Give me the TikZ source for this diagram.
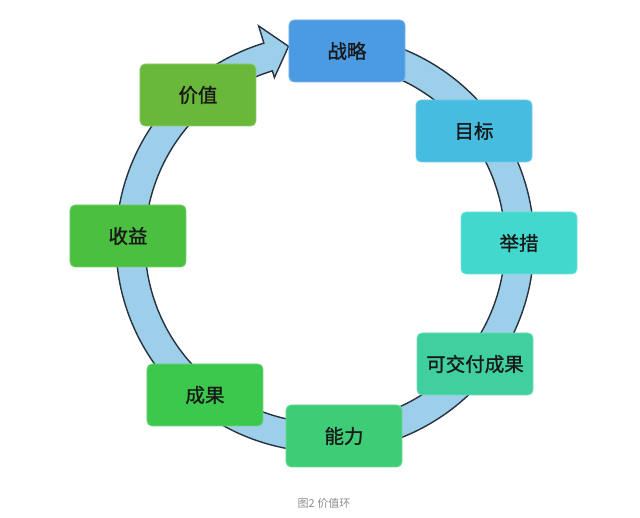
\documentclass[tikz,border=0pt]{standalone}
\usepackage{fontspec}
\usepackage{tikz}
\usetikzlibrary{arrows,positioning,calc}
\usepackage{xcolor}
\newfontfamily\cjk[AutoFakeBold=1.2]{Noto Sans CJK SC}

\definecolor{zhanlue}{HTML}{4A9BE2}
\definecolor{mubiao}{HTML}{45BCE0}
\definecolor{jucuo}{HTML}{42D8CD}
\definecolor{jiaofu}{HTML}{40CF9E}
\definecolor{nengli}{HTML}{3ECC76}
\definecolor{chengguo}{HTML}{3CC84C}
\definecolor{shouyi}{HTML}{4BBF3F}
\definecolor{jiazhi}{HTML}{6AB83A}
\definecolor{ringfill}{HTML}{9DCFEA}
\definecolor{ringline}{HTML}{26323E}

\begin{document}
\begin{tikzpicture}[x=1pt, y=1pt,
  stage/.style={rectangle, rounded corners=5pt, minimum width=116pt, minimum height=62pt,
    fill=#1, draw=#1!75!white, line width=0.8pt, text=black!90,
    font=\cjk\bfseries\fontsize{19.5}{19.5}\selectfont}]
  \useasboundingbox (-325,-275) rectangle (315,243);

  \coordinate (centre) at (0,0);
  \draw[fill=ringfill, draw=ringline, line width=1.4pt, line join=miter]
    (80:209) arc[start angle=80, end angle=-253, radius=209]
    -- (-253:227) -- (-259.5:200) -- (-253:173) -- (-253:180)
    arc[start angle=-253, end angle=80, radius=180] -- cycle;

  \node (zhanlue) [stage=zhanlue] at (22,192) {战略};
  \node (mubiao) [stage=mubiao] at (149,112) {目标};
  \node (jucuo) [stage=jucuo] at (194,0) {举措};
  \node (jiaofu) [stage=jiaofu] at (150,-121) {可交付成果};
  \node (nengli) [stage=nengli] at (19,-193) {能力};
  \node (chengguo) [stage=chengguo] at (-120,-152) {成果};
  \node (shouyi) [stage=shouyi] at (-197,7) {收益};
  \node (jiazhi) [stage=jiazhi] at (-127,148) {价值};

  \node (caption) [text=black!45, font=\cjk\fontsize{11}{11}\selectfont] at (-1,-260) {图2 价值环};
\end{tikzpicture}
\end{document}
